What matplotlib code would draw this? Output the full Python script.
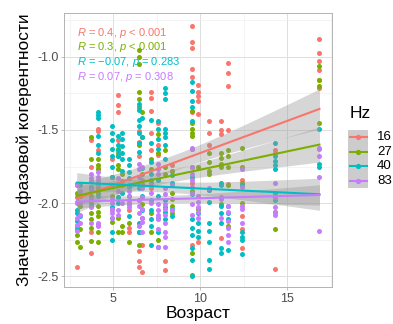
import numpy as np
import matplotlib
matplotlib.use('Agg')
import matplotlib.pyplot as plt
from matplotlib.patches import Rectangle
from matplotlib.lines import Line2D

plt.rcParams['font.family'] = ['Liberation Sans', 'DejaVu Sans']
plt.rcParams['mathtext.fontset'] = 'custom'
plt.rcParams['mathtext.rm'] = 'Liberation Sans'
plt.rcParams['mathtext.it'] = 'Liberation Sans:italic'

# возраст (столбцы точек) и значения когерентности по частотам
ages = [2.9, 3.1, 3.7, 4.1, 4.95, 5.25, 5.5, 5.9, 6.45, 6.65, 7.15,
        7.55, 7.95, 8.4, 9.55, 9.85, 10.5, 11.2, 11.6, 12.4, 14.3, 16.85]

hz16 = [[-1.96, -2.0, -2.44], [-1.92], [-1.57, -1.75, -1.85, -2.2, -2.34],
        [-1.49, -1.51, -1.64, -1.76, -1.9, -2.15], [-1.70, -1.82, -2.05],
        [-1.26, -1.33, -1.38, -1.57, -1.68], [-1.85],
        [-1.88, -1.98, -2.05, -2.17, -2.2],
        [-1.51, -1.58, -1.68, -2.33, -2.40, -2.44], [-1.87, -2.29, -2.47],
        [-1.24, -1.28, -1.37, -1.52, -1.64, -1.9], [-1.45, -1.6, -1.67],
        [-2.40, -2.46], [-1.74, -1.78],
        [-0.79, -0.90, -0.94, -1.08, -1.14, -1.38, -1.63, -1.86, -2.29],
        [-1.19, -1.24, -1.27, -1.30, -1.39, -2.27], [-1.44, -1.52, -1.60, -1.91],
        [-1.44, -1.50, -1.53, -2.24], [-1.04, -1.11, -1.20, -1.50, -1.87],
        [-1.84, -2.09, -2.18, -2.31], [-1.64, -1.66, -2.45],
        [-0.88, -0.97, -1.03, -1.09, -1.155, -1.21]]

hz27 = [[-1.87, -1.93, -2.16, -2.22, -2.27], [-1.95, -2.02, -2.18, -2.30],
        [-1.55, -1.70, -1.89, -1.95, -2.0, -2.07, -2.11, -2.17, -2.26],
        [-1.70, -1.74, -1.77, -1.86, -1.90, -1.93, -2.02, -2.06, -2.09, -2.2, -2.27],
        [-1.82, -1.95, -2.13], [-1.63, -1.66, -1.74, -1.77, -1.96, -2.1, -2.2],
        [-1.8, -2.16, -2.2], [-2.01, -2.14, -2.27],
        [-0.95, -1.0, -1.05, -1.24, -1.29, -1.34, -1.60, -1.98, -2.2, -2.29],
        [-1.38, -1.55, -1.8, -2.01, -2.1], [-1.70, -1.77, -1.86, -2.07, -2.2],
        [-1.53, -1.66, -1.84, -2.25], [-1.64, -1.75, -1.80],
        [-1.78, -1.93, -1.97, -2.02, -2.07],
        [-1.37, -1.45, -1.49, -1.52, -1.54, -1.75, -1.92, -2.34, -2.49],
        [-1.75, -2.04], [-1.66, -1.72, -1.78, -1.80],
        [-1.66, -1.69, -1.73, -1.75, -2.01], [-1.64, -1.68, -1.75, -1.88, -2.16],
        [-1.62, -1.75, -1.86, -2.0], [-2.06, -2.18], [-1.06, -1.16, -1.20, -1.45]]

hz40 = [[-1.88, -2.05, -2.07, -2.12, -2.18], [-1.88, -2.09], [-1.9, -2.02],
        [-1.38, -1.40, -1.42, -1.54, -1.60, -1.66, -1.95],
        [-1.47, -1.52, -1.57, -1.63, -1.68, -1.75, -1.82, -1.88, -2.03, -2.1, -2.2, -2.25],
        [-1.54, -1.60, -1.64, -1.68, -1.87, -1.96, -2.0],
        [-1.52, -1.56, -1.61, -1.66, -1.70, -1.78, -1.93],
        [-1.70, -1.74, -1.79, -1.83, -1.89, -1.95, -2.09],
        [-1.32, -1.36, -1.43, -1.47, -1.52, -1.59, -1.65, -1.9, -2.14, -2.2],
        [-1.42, -1.55, -1.76, -1.95, -2.05],
        [-1.43, -1.59, -1.72, -1.80, -1.84, -1.98, -2.05, -2.11, -2.16, -2.29],
        [-1.44, -1.49, -1.56, -1.63, -1.84, -1.95, -2.1, -2.2, -2.3],
        [-1.21, -1.25, -1.29, -1.49, -1.52, -1.55, -1.60, -1.70, -1.98, -2.03, -2.06, -2.11],
        [-1.81, -1.86, -2.04, -2.09],
        [-1.17, -1.23, -1.30, -1.34, -1.44, -1.82, -1.94, -2.11, -2.17, -2.22, -2.31, -2.39, -2.50],
        [-2.07, -2.14, -2.19, -2.23], [-1.91, -1.99, -2.14, -2.19, -2.27, -2.39, -2.45],
        [-1.86, -1.88, -2.02, -2.07, -2.14, -2.31, -2.34], [-2.02, -2.07, -2.11, -2.32],
        [-1.88, -2.2, -2.23, -2.25, -2.35],
        [-1.59, -1.68, -1.71, -1.74, -1.77, -1.93, -1.98], [-1.49, -1.73, -1.75]]

hz83 = [[-1.88, -1.99, -2.1, -2.15, -2.19], [-1.92, -2.0, -2.08, -2.14],
        [-1.80, -1.83, -1.91, -1.97, -2.03, -2.14],
        [-1.79, -1.82, -1.84, -1.88, -2.14, -2.16], [-1.97, -2.0, -2.04, -2.07, -2.1],
        [-1.83, -1.92, -2.05, -2.08], [-1.88, -2.0], [-1.92, -1.95, -2.0, -2.03],
        [-1.73, -1.77, -1.82, -1.86, -1.98, -2.02, -2.07, -2.16],
        [-1.75, -1.84, -1.9, -1.96, -2.04, -2.1, -2.13, -2.2], [-1.88, -1.93, -2.0],
        [-1.73, -1.77, -1.80, -2.01, -2.05, -2.08, -2.11, -2.18, -2.3],
        [-1.9, -1.94, -2.01, -2.04, -2.08, -2.14, -2.2, -2.23, -2.3], [-1.88, -2.05],
        [-1.62, -1.63, -1.75, -1.80, -1.84, -1.89, -1.93, -2.01, -2.08],
        [-1.95, -1.99, -2.03, -2.06, -2.10], [-1.9], [-1.96, -1.97, -2.10],
        [-2.02, -2.06, -2.12, -2.17, -2.22, -2.27], [-1.77, -1.89, -2.02, -2.04, -2.14],
        [-1.86, -1.96, -2.03, -2.06, -2.08], [-1.62, -1.63, -1.68, -1.82, -2.19]]

groups = ['16', '27', '40', '83']
group_vals = [hz16, hz27, hz40, hz83]
colors = ['#F8766D', '#7CAE00', '#00BFC4', '#C77CFF']
r_vals = ['0.4', '0.3', '\u22120.07', '0.07']
p_vals = ['< 0.001', '< 0.001', '= 0.283', '= 0.308']

# линии регрессии (по картинке): значение на min и max возраста,
# полуширина доверительной полосы на правом конце
fit_left = [-1.97, -1.95, -1.86, -1.99]
fit_right = [-1.356, -1.60, -1.94, -1.945]
band_right = [0.137, 0.12, 0.11, 0.07]

W, H = 393, 324


def flatten(vals):
    xs = [a for a, col in zip(ages, vals) for _ in col]
    ys = [v for col in vals for v in col]
    return np.array(xs), np.array(ys)


def band_shape(x, xs):
    # форма полосы SE линейной регрессии по распределению возрастов
    n = len(x)
    sxx = np.sum((x - x.mean()) ** 2)
    return np.sqrt(1 / n + (xs - x.mean()) ** 2 / sxx)


fig = plt.figure(figsize=(W / 100, H / 100), dpi=100)
ax = fig.add_axes([64 / W, 1 - 287 / H, (332 - 64) / W, (287 - 13) / H])

data = [flatten(v) for v in group_vals]
for (x, y), c in zip(data, colors):
    ax.scatter(x, y, s=13, color=c, linewidths=0, zorder=2)

for i, ((x, y), c) in enumerate(zip(data, colors)):
    xs = np.linspace(x.min(), x.max(), 80)
    fit = np.interp(xs, [x.min(), x.max()], [fit_left[i], fit_right[i]])
    shape = band_shape(x, xs)
    hw = band_right[i] * shape / shape[-1]
    ax.fill_between(xs, fit - hw, fit + hw, color='#999999', alpha=0.4,
                    linewidth=0, zorder=3)
    ax.plot(xs, fit, color=c, lw=1.5, zorder=4)

# подписи корреляции
x0 = min(ages)
for i, (r, p, c) in enumerate(zip(r_vals, p_vals, colors)):
    ax.text(x0, -0.835 - i * 0.1, f'$R$ = {r}, $p$ {p}', color=c,
            fontsize=8, va='center', ha='left', zorder=5)

ax.set_xlim(2.167, 17.57)
ax.set_ylim(-2.575, -0.699)
ax.set_xticks([5, 10, 15])
ax.set_xticks([2.5, 7.5, 12.5, 17.5], minor=True)
ax.set_yticks([-2.5, -2.0, -1.5, -1.0])
ax.set_yticklabels(['-2.5', '-2.0', '-1.5', '-1.0'])
ax.set_yticks([-2.25, -1.75, -1.25, -0.75], minor=True)
ax.grid(which='major', color='#DEDEDE', lw=0.7, zorder=0)
ax.grid(which='minor', color='#EFEFEF', lw=0.45, zorder=0)
ax.set_axisbelow(True)
for sp in ax.spines.values():
    sp.set_color('#B3B3B3')
    sp.set_linewidth(0.7)
ax.tick_params(which='major', length=2.5, width=0.6, color='#B3B3B3',
               labelcolor='#4D4D4D', labelsize=9, pad=1.5)
ax.tick_params(which='minor', length=0)

ax.set_xlabel('Возраст', fontsize=12.5, labelpad=1)
ax.set_ylabel('Значение фазовой когерентности', fontsize=12.5, labelpad=4)

# легенда
fig.text(350 / W, 1 - 113 / H, 'Hz', fontsize=12.5, ha='left', va='center')
key_h = 14.7
top = 129.5
fig.patches.append(Rectangle((348 / W, 1 - (top + 4 * key_h) / H), 20 / W,
                             4 * key_h / H, transform=fig.transFigure,
                             facecolor='#CCCCCC', edgecolor='none'))
for i, (g, c) in enumerate(zip(groups, colors)):
    yc = 1 - (top + key_h * (i + 0.5)) / H
    fig.add_artist(Line2D([349.5 / W, 366.5 / W], [yc, yc], color=c, lw=1.5,
                          transform=fig.transFigure))
    fig.add_artist(Line2D([358 / W], [yc], marker='o', ms=3.8, color=c,
                          markeredgewidth=0, transform=fig.transFigure))
    fig.text(377 / W, yc, g, fontsize=9.5, ha='left', va='center')

fig.savefig('out.png', dpi=100)
